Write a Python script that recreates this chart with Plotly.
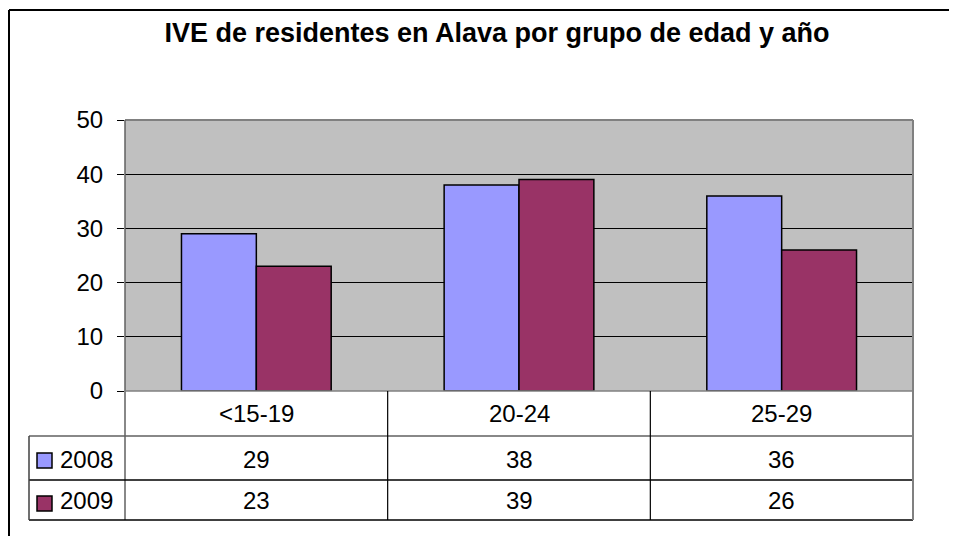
import plotly.graph_objects as go

categories = ["<15-19", "20-24", "25-29"]
series_names = ["2008", "2009"]
values_2008 = [29, 38, 36]
values_2009 = [23, 39, 26]
series_values = [values_2008, values_2009]
series_colors = ["#9999FF", "#993366"]
y_ticks = [0, 10, 20, 30, 40, 50]
title_text = "IVE de residentes en Alava por grupo de edad y año"

# page geometry (browser body has an 8px margin)
OFF = 8
PAGE_W, PAGE_H = 957, 536
W, H = PAGE_W - OFF, PAGE_H - OFF
L, R, T, B = 125, 913, 120, 391  # plot area in page pixels
FONT = "Liberation Sans, Arial, sans-serif"


def px(x):
    return (x - L) / (R - L)


def py(y):
    return (B - y) / (B - T)


fig = go.Figure()
for name, vals, col in zip(series_names, series_values, series_colors):
    fig.add_trace(go.Bar(
        x=categories, y=vals, name=name,
        marker=dict(color=col, line=dict(color="black", width=1.5)),
        hoverinfo="x+y+name",
    ))

shapes = []


def line(x0, y0, x1, y1, color="black", width=1):
    shapes.append(dict(type="line", xref="paper", yref="paper",
                       x0=px(x0), y0=py(y0), x1=px(x1), y1=py(y1),
                       line=dict(color=color, width=width), layer="above"))


# outer chart border (left and top visible)
line(9, 10, 9, 545, "black", 2)
line(9, 10, 965, 10, "black", 2)

# plot area border
line(L, T, R, T, "#808080", 2)
line(R, T, R, B, "#808080", 2)
line(L, T, L, 520, "#606060", 1.5)

# data table
tbl_left = 29
row1, row2, row3 = 436, 480, 520
line(L, B, R, B, "#808080", 1.5)
line(tbl_left, row1, R, row1, "#606060", 1.5)
line(tbl_left, row2, R, row2, "black", 1.5)
line(tbl_left, row3, R, row3, "black", 1.5)
line(tbl_left, row1, tbl_left, row3, "#404040", 1.5)
line(R, B, R, row3, "#808080", 2)
ncat = len(categories)
for i in range(1, ncat):
    xx = L + (R - L) * i / ncat
    line(xx, B, xx, row3, "black", 1.2)

TXT = dict(size=24, color="black", family=FONT)
annotations = []
for c in categories:
    annotations.append(dict(x=c, xref="x", y=py(413), yref="paper", text=c,
                            xanchor="center", yanchor="middle",
                            showarrow=False, font=TXT))
row_mids = [459, 500]
key_mids = [460.5, 503.5]
for r, (name, vals, col) in enumerate(zip(series_names, series_values, series_colors)):
    ym = row_mids[r]
    km = key_mids[r]
    shapes.append(dict(type="rect", xref="paper", yref="paper",
                       x0=px(37), x1=px(52), y0=py(km - 7.5), y1=py(km + 7.5),
                       fillcolor=col, line=dict(color="black", width=1.5), layer="above"))
    annotations.append(dict(x=px(58), xref="paper", y=py(ym), yref="paper", text=name,
                            xanchor="left", yanchor="middle", showarrow=False, font=TXT))
    for c, v in zip(categories, vals):
        annotations.append(dict(x=c, xref="x", y=py(ym), yref="paper", text=str(v),
                                xanchor="center", yanchor="middle",
                                showarrow=False, font=TXT))

fig.update_layout(
    width=W, height=H,
    margin=dict(l=L - OFF, r=PAGE_W - R, t=T - OFF, b=PAGE_H - B, pad=0),
    paper_bgcolor="white",
    plot_bgcolor="#C0C0C0",
    showlegend=False,
    barmode="group",
    bargap=0.43,
    bargroupgap=0,
    title=dict(text="<b>" + title_text + "</b>", x=px(497), xref="paper",
               y=1 - (33 - OFF) / H, yref="container", yanchor="middle", xanchor="center",
               font=dict(size=27, color="black", family=FONT)),
    xaxis=dict(range=[-0.5, 2.5], showticklabels=False, showgrid=False,
               zeroline=False, ticks="", showline=False, fixedrange=True),
    yaxis=dict(range=[0, 50], tickvals=y_ticks, ticks="outside", ticklen=7,
               tickcolor="black", tickwidth=1, showgrid=True, gridcolor="black",
               gridwidth=1, zeroline=False, showline=False,
               tickfont=dict(size=24, color="black", family=FONT), ticklabelstandoff=9,
               fixedrange=True),
    shapes=shapes,
    annotations=annotations,
    font=dict(family=FONT),
)

fig.write_html("out.html")
